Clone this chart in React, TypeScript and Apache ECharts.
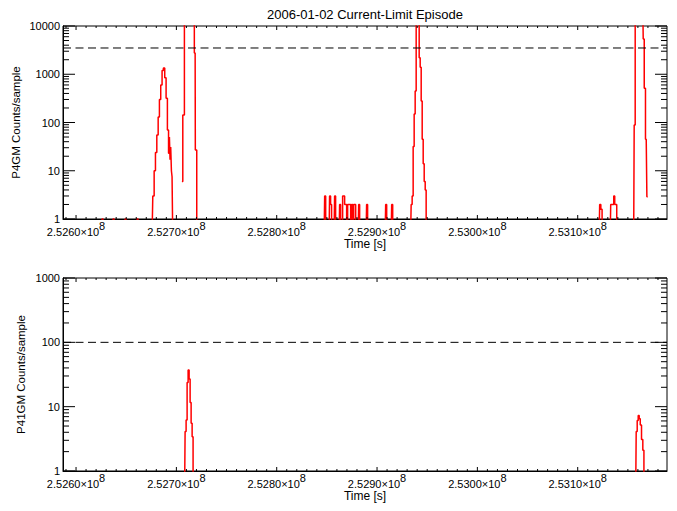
import React, { useEffect, useRef } from "react";
import * as echarts from "echarts";

type Pt = [number, number | null];

// ---------- axis extents and tick labels ----------
const X_MIN = 252587000;
const X_MAX = 253189000;
const xMajorTicks = [252600000, 252700000, 252800000, 252900000, 253000000, 253100000];
const X_MINOR_STEP = 10000;
const topYMajor = [1, 10, 100, 1000, 10000];
const bottomYMajor = [1, 10, 100, 1000];
const topThreshold = 3500;
const bottomThreshold = 100;

const titleText = "2006-01-02 Current-Limit Episode";
const topYName = "P4GM Counts/sample";
const bottomYName = "P41GM Counts/sample";
const xName = "Time [s]";

// ---------- P4GM counts/sample (0.5 = zero counts, below the log axis) ----------
const p4gmLowCounts: Pt[] = [
  [252625400, 0.5], [252626400, 1], [252627400, 0.5],
  [252636400, 0.5], [252637400, 1], [252638400, 0.5],
  [252648400, 0.5], [252649400, 1], [252650300, 0.5],
  [252660300, 0.5], [252661300, 1], [252662300, 0.5],
];
const p4gmBurstA: Pt[] = [
  [252675800, 0.5], [252677200, 3], [252678500, 10], [252679800, 24],
  [252681200, 55], [252682500, 130], [252683700, 300], [252685100, 600],
  [252686400, 1200], [252687700, 1350], [252689100, 850], [252690400, 320],
  [252691700, 70], [252692700, 23], [252693400, 50], [252694000, 17],
  [252694700, 31], [252695400, 10], [252696000, 7.5], [252696700, 0.5],
];
const p4gmBurstB: Pt[] = [
  [252705400, null], [252705600, 6], [252707200, 143], [252708800, 30000],
  [252717100, 30000], [252718700, 2750], [252719100, 27], [252721500, 0.5],
];
const p4gmNoise: Pt[] = [
  [252847300, 0.5], [252848300, 3], [252849300, 0.5],
  [252852200, 0.5], [252853200, 3], [252854200, 2], [252855200, 0.5],
  [252857200, 0.5], [252858200, 3], [252859200, 0.5],
  [252862200, 0.5], [252863200, 2], [252864200, 0.5],
  [252865200, 0.5], [252866200, 3], [252867200, 3], [252868200, 2], [252869200, 2],
  [252870200, 0.5], [252871200, 2], [252872200, 2], [252873200, 2], [252874200, 0.5],
  [252875200, 2], [252876200, 0.5], [252877200, 2], [252878200, 2], [252879200, 0.5],
  [252881200, 0.5], [252882200, 2], [252883100, 0.5],
  [252889100, 0.5], [252890100, 2], [252891100, 0.5],
  [252908100, 0.5], [252909100, 2], [252910100, 0.5],
  [252914100, 0.5], [252915100, 2], [252916100, 0.5],
];
const p4gmBurstC: Pt[] = [
  [252933500, 0.5], [252934500, 2], [252935500, 3], [252936500, 32],
  [252937500, 150], [252938500, 450], [252939500, 30000], [252940500, 30000],
  [252941500, 30000], [252942500, 2200], [252943500, 1400], [252944500, 280],
  [252945500, 45], [252946500, 14], [252947500, 6], [252948500, 4],
  [252949400, 0.5],
];
const p4gmSmall: Pt[] = [
  [253121400, 0.5], [253122400, 2], [253123700, 1.6], [253124900, 0.5],
  [253132400, 0.5], [253133400, 2], [253134400, 2], [253135400, 2],
  [253136400, 3], [253137400, 2], [253138400, 2], [253139400, 0.5],
];
const p4gmBurstD: Pt[] = [
  [253155800, 0.5], [253156800, 89], [253157800, 30000], [253164800, 30000],
  [253165800, 5400], [253166800, 510], [253168300, 45], [253169600, 2.9],
  [253170000, null],
];

// ---------- P41GM counts/sample ----------
const p41gmBurstA: Pt[] = [
  [252708200, 0.5], [252709200, 4.1], [252710200, 6.2], [252711200, 23.7],
  [252712200, 37], [252713200, 27], [252714200, 11.6], [252715200, 5.5],
  [252716200, 3.4], [252717100, 0.5],
];
const p41gmBurstB: Pt[] = [
  [253157800, 0.5], [253158800, 4.1], [253159800, 6.1], [253160800, 7.3],
  [253161800, 6.5], [253162900, 5.2], [253164300, 3.1], [253165500, 2.1],
  [253166500, 0.5],
];

const FONT = "'Liberation Sans', Arial, sans-serif";

// layout
const GRID_LEFT = 63;
const GRID_W = 604;
const GRID_H = 193;
const TOP_GRID_Y = 26;
const BOTTOM_GRID_Y = 278;

// tick lengths (px)
const X_MAJOR_LEN = 4;
const X_MINOR_LEN = 2;
const Y_MAJOR_LEN = 12;
const Y_MINOR_LEN = 6;

// Tick marks as short line segments in data units (separated by nulls).
function tickData(major: number[]): Pt[] {
  const yMax = major[major.length - 1];
  const decades = major.length - 1;
  const pxPerDecade = GRID_H / decades;
  const xPerPx = (X_MAX - X_MIN) / GRID_W;
  const out: Pt[] = [];
  for (let v = Math.ceil(X_MIN / X_MINOR_STEP) * X_MINOR_STEP; v <= X_MAX; v += X_MINOR_STEP) {
    const len = xMajorTicks.indexOf(v) >= 0 ? X_MAJOR_LEN : X_MINOR_LEN;
    const f = Math.pow(10, len / pxPerDecade);
    out.push([v, 1], [v, f], [v, null]);
    out.push([v, yMax], [v, yMax / f], [v, null]);
  }
  for (let d = 0; d < major.length; d++) {
    const vals: [number, number][] = [[major[d], Y_MAJOR_LEN]];
    if (d < major.length - 1) {
      for (let m = 2; m <= 9; m++) vals.push([m * major[d], Y_MINOR_LEN]);
    }
    for (const [val, len] of vals) {
      out.push([X_MIN, val], [X_MIN + len * xPerPx, val], [X_MIN, null]);
      out.push([X_MAX, val], [X_MAX - len * xPerPx, val], [X_MAX, null]);
    }
  }
  return out;
}

function buildXAxis(gridIndex: number) {
  return {
    type: "value",
    gridIndex,
    min: X_MIN,
    max: X_MAX,
    position: "bottom",
    splitLine: { show: false },
    axisPointer: { show: false },
    axisLine: { show: true, onZero: false, lineStyle: { color: "#000", width: 1 } },
    axisTick: { show: false },
    axisLabel: {
      show: true,
      customValues: xMajorTicks,
      margin: 6,
      formatter: (v: number) => `{m|${(v / 1e8).toFixed(4)}×10}{s|8}`,
      rich: {
        m: { fontSize: 11, fontFamily: FONT, color: "#000", lineHeight: 12, verticalAlign: "bottom" },
        s: { fontSize: 11, fontFamily: FONT, color: "#000", lineHeight: 12, verticalAlign: "bottom", padding: [0, 0, 6, 0] },
      },
    },
  };
}

function buildYAxis(gridIndex: number, major: number[], maxVal: number) {
  return {
    type: "log",
    logBase: 10,
    gridIndex,
    min: 1,
    max: maxVal,
    position: "left",
    splitLine: { show: false },
    axisPointer: { show: false },
    axisLine: { show: true, onZero: false, lineStyle: { color: "#000", width: 1 } },
    axisTick: { show: false },
    axisLabel: {
      show: true,
      customValues: major,
      margin: 3,
      fontSize: 11,
      fontFamily: FONT,
      color: "#000",
      formatter: (v: number) => String(Math.round(v)),
    },
  };
}

function dataSeries(data: Pt[], axisIndex: number) {
  return {
    type: "line",
    xAxisIndex: axisIndex,
    yAxisIndex: axisIndex,
    data,
    step: "middle",
    symbol: "none",
    showSymbol: false,
    connectNulls: false,
    clip: true,
    silent: true,
    lineStyle: { color: "#ff0000", width: 1.5 },
    z: 3,
  };
}

function thresholdSeries(value: number, axisIndex: number) {
  return {
    type: "line",
    xAxisIndex: axisIndex,
    yAxisIndex: axisIndex,
    data: [[X_MIN, value], [X_MAX, value]],
    symbol: "none",
    showSymbol: false,
    silent: true,
    clip: true,
    lineStyle: { color: "#000", width: 1, type: [8, 4.5] },
    z: 4,
  };
}

function tickSeries(data: Pt[], axisIndex: number) {
  return {
    type: "line",
    xAxisIndex: axisIndex,
    yAxisIndex: axisIndex,
    data,
    symbol: "none",
    showSymbol: false,
    connectNulls: false,
    silent: true,
    clip: false,
    lineStyle: { color: "#000", width: 1 },
    z: 5,
  };
}

export default function App() {
  const ref = useRef<HTMLDivElement>(null);

  useEffect(() => {
    if (!ref.current) return;
    const chart = echarts.init(ref.current, null, { renderer: "svg" });

    const p4gmData: Pt[] = [
      ...p4gmLowCounts, ...p4gmBurstA, ...p4gmBurstB, ...p4gmNoise,
      ...p4gmBurstC, ...p4gmSmall, ...p4gmBurstD,
    ];
    const p41gmData: Pt[] = [...p41gmBurstA, ...p41gmBurstB];

    const textStyle = (size: number) => ({ fill: "#000", font: `${size}px ${FONT}`, align: "center", verticalAlign: "middle" });

    chart.setOption({
      animation: false,
      backgroundColor: "#ffffff",
      grid: [
        { left: GRID_LEFT, top: TOP_GRID_Y, width: GRID_W, height: GRID_H, containLabel: false, show: true, borderColor: "#000", borderWidth: 1, backgroundColor: "transparent" },
        { left: GRID_LEFT, top: BOTTOM_GRID_Y, width: GRID_W, height: GRID_H, containLabel: false, show: true, borderColor: "#000", borderWidth: 1, backgroundColor: "transparent" },
      ],
      xAxis: [buildXAxis(0), buildXAxis(1)],
      yAxis: [buildYAxis(0, topYMajor, 10000), buildYAxis(1, bottomYMajor, 1000)],
      series: [
        dataSeries(p4gmData, 0),
        thresholdSeries(topThreshold, 0),
        tickSeries(tickData(topYMajor), 0),
        dataSeries(p41gmData, 1),
        thresholdSeries(bottomThreshold, 1),
        tickSeries(tickData(bottomYMajor), 1),
      ],
      graphic: [
        { type: "text", x: 365, y: 14, style: { text: titleText, ...textStyle(13) } },
        { type: "text", x: 365, y: 244, style: { text: xName, ...textStyle(12) } },
        { type: "text", x: 365, y: 496, style: { text: xName, ...textStyle(12) } },
        { type: "text", x: 16, y: 122.5, rotation: Math.PI / 2, style: { text: topYName, ...textStyle(11.5) } },
        { type: "text", x: 21, y: 374.5, rotation: Math.PI / 2, style: { text: bottomYName, ...textStyle(11.5) } },
      ],
    });

    return () => chart.dispose();
  }, []);

  return (
    <div
      ref={ref}
      style={{ position: "fixed", left: 0, top: 0, width: 677, height: 511, background: "#fff" }}
    />
  );
}
